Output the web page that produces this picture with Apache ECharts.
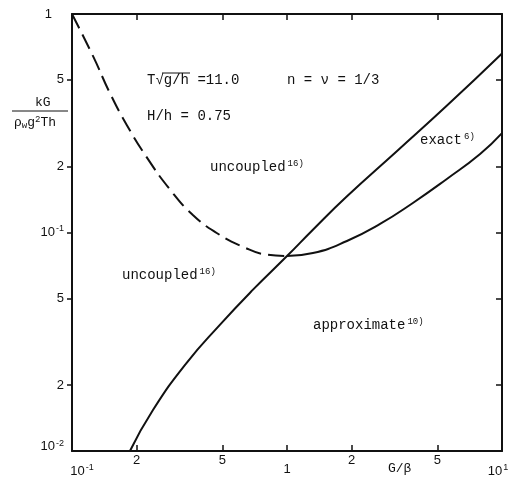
<!DOCTYPE html>
<html>
<head>
<meta charset="utf-8">
<script src="https://cdn.jsdelivr.net/npm/echarts@6/dist/echarts.min.js"></script>
<style>
  html, body { margin: 0; padding: 0; background: #fff; }
  #chart { width: 525px; height: 483px; }
</style>
</head>
<body>
<div id="chart"></div>
<script>
// Non-dimensional damping kG/(ρw g² T h) against G/β, log-log.

// Dashed branch (uncoupled theory), from G/β = 0.1 down to the minimum near 1
const dashedX = [0.1, 0.1256, 0.150, 0.180, 0.222, 0.286, 0.366, 0.471, 0.624, 0.805, 1.0];
const dashedY = [1.0, 0.638, 0.435, 0.310, 0.222, 0.157, 0.120, 0.0995, 0.0860, 0.0792, 0.078];

// Solid continuation of the same curve beyond G/β = 1
const risingX = [1.0, 1.32, 1.90, 2.71, 3.85, 5.54, 7.91, 10];
const risingY = [0.078, 0.0805, 0.0914, 0.1094, 0.1365, 0.1758, 0.2287, 0.285];

// Steep solid boundary line
const steepX = [0.186, 0.238, 0.340, 0.486, 0.693, 1.0, 1.32, 1.88, 3.28, 5.5, 10];
const steepY = [0.01, 0.0154, 0.0252, 0.0377, 0.0546, 0.078, 0.103, 0.145, 0.238, 0.378, 0.66];

// Tick positions and their labels
const xMinorTicks = [0.2, 0.5, 2, 5];
const xDecadeTicks = [0.1, 1, 10];
const xTickMarks = [0.2, 0.5, 1, 2, 5];
const xLabels = { '0.1': '{lo|10}{sup|-1}', '0.2': '2', '0.5': '5', '1': '1', '2': '2', '5': '5', '10': '10{hi|1}' };

const yLabelTicks = [0.01, 0.02, 0.05, 0.1, 0.2, 0.5, 1];
const yTickMarks = [0.02, 0.05, 0.1, 0.2, 0.5];
const yLabels = { '0.01': '{dec|10}{sup|-2}', '0.02': '2', '0.05': '5', '0.1': '10{sup|-1}', '0.2': '2', '0.5': '5', '1': '{one|1}' };

function pick(table, v) {
  for (const k in table) {
    if (Math.abs(Math.log10(v) - Math.log10(parseFloat(k))) < 1e-4) return table[k];
  }
  return '';
}
const zip = (xs, ys) => xs.map((x, i) => [x, ys[i]]);

const INK = '#111';
const MONO = '"Liberation Mono", "DejaVu Sans Mono", monospace';
const SANS = '"Liberation Sans", "DejaVu Sans", sans-serif';

const lineAxis = { show: true, lineStyle: { color: INK, width: 2 } };
const supStyle = { fontSize: 9, fontFamily: SANS, color: INK, verticalAlign: 'top', padding: [0, 0, 8, 1] };
const supRich = { sup: supStyle };

const chart = echarts.init(document.getElementById('chart'));

chart.setOption({
  animation: false,
  backgroundColor: '#fff',
  grid: { left: 72, right: 23, top: 14, bottom: 32 },
  xAxis: [
    {
      type: 'log', logBase: 10, min: 0.1, max: 10, position: 'bottom',
      axisLine: lineAxis,
      axisTick: { show: true, inside: true, length: 6, customValues: xTickMarks, lineStyle: { color: INK, width: 1.5 } },
      minorTick: { show: false },
      axisLabel: {
        customValues: xMinorTicks, margin: 3, fontSize: 13, fontFamily: SANS, color: INK,
        formatter: v => pick(xLabels, v), rich: supRich
      },
      splitLine: { show: false }
    },
    {
      type: 'log', logBase: 10, min: 0.1, max: 10, position: 'bottom',
      axisLine: { show: false }, axisTick: { show: false },
      axisLabel: {
        customValues: xDecadeTicks, margin: 12, fontSize: 13, fontFamily: SANS, color: INK,
        formatter: v => pick(xLabels, v),
        rich: {
          sup: supStyle,
          lo: { fontSize: 13, fontFamily: SANS, color: INK, padding: [0, 0, 0, 20] },
          hi: Object.assign({}, supStyle, { padding: [0, 8, 8, 1] })
        }
      },
      splitLine: { show: false }
    },
    {
      type: 'log', logBase: 10, min: 0.1, max: 10, position: 'top',
      axisLine: lineAxis,
      axisTick: { show: true, inside: true, length: 6, customValues: xTickMarks, lineStyle: { color: INK, width: 1.5 } },
      axisLabel: { show: false },
      splitLine: { show: false }
    }
  ],
  yAxis: [
    {
      type: 'log', logBase: 10, min: 0.01, max: 1, position: 'left',
      axisLine: lineAxis,
      axisTick: { show: true, inside: false, length: 5, customValues: yTickMarks, lineStyle: { color: INK, width: 1.5 } },
      axisLabel: {
        customValues: yLabelTicks, margin: 8, fontSize: 13, fontFamily: SANS, color: INK,
        formatter: v => pick(yLabels, v),
        rich: Object.assign({
          one: { fontSize: 13, fontFamily: SANS, color: INK, padding: [0, 12, 0, 0] },
          dec: { fontSize: 13, fontFamily: SANS, color: INK, padding: [0, 0, 10, 0] }
        }, supRich)
      },
      splitLine: { show: false }
    },
    {
      type: 'log', logBase: 10, min: 0.01, max: 1, position: 'right',
      axisLine: lineAxis,
      axisTick: { show: true, inside: true, length: 6, customValues: yTickMarks, lineStyle: { color: INK, width: 1.5 } },
      axisLabel: { show: false },
      splitLine: { show: false }
    }
  ],
  series: [
    {
      type: 'line', name: 'uncoupled branch', xAxisIndex: 0, yAxisIndex: 0,
      data: zip(dashedX, dashedY), showSymbol: false, smooth: 0.5,
      lineStyle: { color: INK, width: 2, type: [16, 7] }
    },
    {
      type: 'line', name: 'rising branch', xAxisIndex: 0, yAxisIndex: 0,
      data: zip(risingX, risingY), showSymbol: false, smooth: 0.5,
      lineStyle: { color: INK, width: 2 }
    },
    {
      type: 'line', name: 'steep boundary', xAxisIndex: 0, yAxisIndex: 0,
      data: zip(steepX, steepY), showSymbol: false, smooth: 0.5,
      lineStyle: { color: INK, width: 2 }
    }
  ],
  graphic: [
    // y-axis title as a fraction
    { type: 'text', left: 35, top: 96, style: { text: 'kG', font: '13px ' + MONO, fill: INK } },
    { type: 'line', shape: { x1: 12, y1: 111, x2: 68, y2: 111 }, style: { stroke: INK, lineWidth: 1 } },
    {
      type: 'text', left: 14, top: 115,
      style: {
        text: 'ρ{sub|w}g{sup|2}Th', font: '13px ' + MONO, fill: INK,
        rich: {
          sub: { fontSize: 9, fontFamily: MONO, fill: INK, verticalAlign: 'bottom', padding: [6, 0, 0, 0] },
          sup: { fontSize: 9, fontFamily: MONO, fill: INK, verticalAlign: 'top', padding: [0, 0, 6, 0] }
        }
      }
    },
    // x-axis title
    { type: 'text', left: 388, top: 462, style: { text: 'G/β', font: '13px ' + MONO, fill: INK } },
    // parameters
    { type: 'text', left: 147, top: 73, style: { text: 'T√g/h =11.0', font: '14px ' + MONO, fill: INK } },
    { type: 'line', shape: { x1: 162, y1: 73, x2: 190, y2: 73 }, style: { stroke: INK, lineWidth: 1 } },
    { type: 'text', left: 287, top: 73, style: { text: 'n = ν = 1/3', font: '14px ' + MONO, fill: INK } },
    { type: 'text', left: 147, top: 109, style: { text: 'H/h = 0.75', font: '14px ' + MONO, fill: INK } },
    // region labels
    {
      type: 'text', left: 210, top: 159,
      style: { text: 'uncoupled{s|16)}', font: '14px ' + MONO, fill: INK,
        rich: { s: { fontSize: 9, fontFamily: MONO, fill: INK, verticalAlign: 'top', padding: [0, 0, 8, 2] } } }
    },
    {
      type: 'text', left: 122, top: 267,
      style: { text: 'uncoupled{s|16)}', font: '14px ' + MONO, fill: INK,
        rich: { s: { fontSize: 9, fontFamily: MONO, fill: INK, verticalAlign: 'top', padding: [0, 0, 8, 2] } } }
    },
    {
      type: 'text', left: 420, top: 132,
      style: { text: 'exact{s|6)}', font: '14px ' + MONO, fill: INK,
        rich: { s: { fontSize: 9, fontFamily: MONO, fill: INK, verticalAlign: 'top', padding: [0, 0, 8, 2] } } }
    },
    {
      type: 'text', left: 313, top: 317,
      style: { text: 'approximate{s|10)}', font: '14px ' + MONO, fill: INK,
        rich: { s: { fontSize: 9, fontFamily: MONO, fill: INK, verticalAlign: 'top', padding: [0, 0, 8, 2] } } }
    }
  ]
});
</script>
</body>
</html>
